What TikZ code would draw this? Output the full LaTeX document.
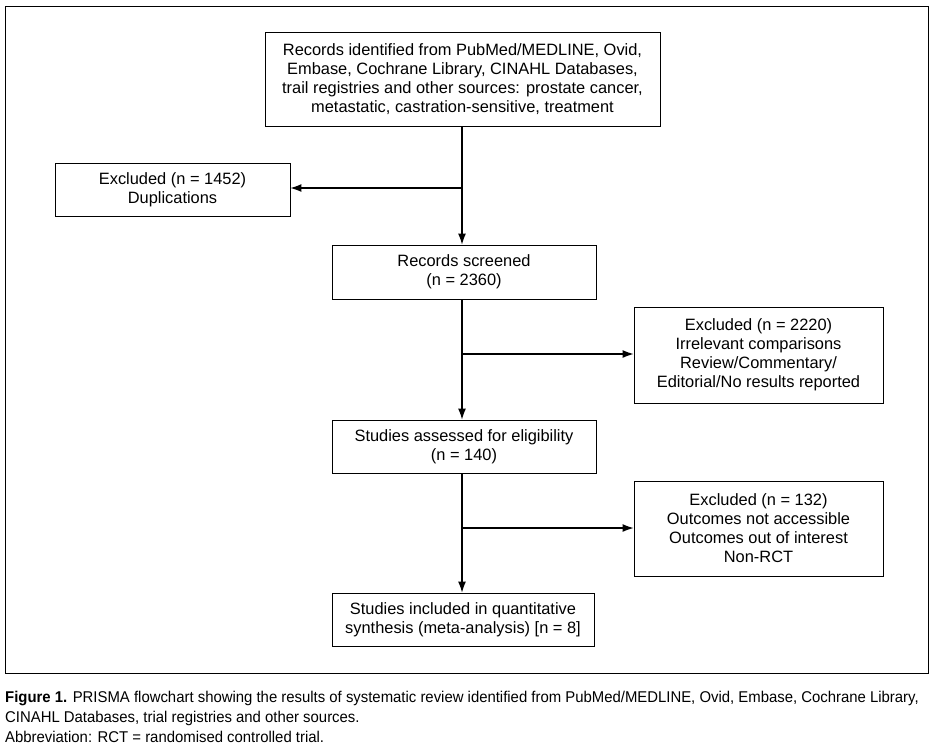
\documentclass[tikz,border=0pt]{standalone}
\usepackage{fontspec}
\setmainfont{Liberation Sans}
\newfontfamily\capfont[FakeStretch=0.955]{Liberation Sans}
\usetikzlibrary{arrows.meta}
\begin{document}
\begin{tikzpicture}[x=1pt,y=-1pt,
  box/.style={draw=black,line width=0.9pt,align=center,inner sep=0pt,
    font=\fontsize{16.4}{19}\selectfont},
  arr/.style={line width=1.1pt,-{Latex[length=11pt,width=8pt]}},
  captxt/.style={anchor=base west,inner sep=0pt,font=\capfont\fontsize{15.6}{18}\selectfont}]
\useasboundingbox (0,0) rectangle (936,752);
\draw[line width=1pt] (5,7) rectangle (928,673);
\node[box,minimum width=395pt,minimum height=94pt] (top) at (462.5,79)
  {Records identified from PubMed/MEDLINE, Ovid,\\Embase, Cochrane Library, CINAHL Databases,\\trail registries and other sources: prostate cancer,\\metastatic, castration-sensitive, treatment};
\node[box,minimum width=235pt,minimum height=53pt] (ex1) at (172.5,189.5)
  {Excluded (n = 1452)\\Duplications};
\node[box,minimum width=264pt,minimum height=54pt] (scr) at (464,272)
  {Records screened\\(n = 2360)};
\node[box,minimum width=249pt,minimum height=96pt] (ex2) at (758.5,355)
  {Excluded (n = 2220)\\Irrelevant comparisons\\Review/Commentary/\\Editorial/No results reported};
\node[box,minimum width=264pt,minimum height=53pt] (ass) at (464,446.5)
  {Studies assessed for eligibility\\(n = 140)};
\node[box,minimum width=249pt,minimum height=95pt] (ex3) at (758.5,528.5)
  {Excluded (n = 132)\\Outcomes not accessible\\Outcomes out of interest\\Non-RCT};
\node[box,minimum width=262pt,minimum height=53pt] (inc) at (463,619.5)
  {Studies included in quantitative\\synthesis (meta-analysis) [n = 8]};
\coordinate (t0) at (462,126);
\coordinate (b1) at (462,188);
\coordinate (s0) at (462,299);
\coordinate (b2) at (462,354);
\coordinate (a0) at (462,473);
\coordinate (b3) at (462,528);
\draw[arr] (t0) -- (t0 |- scr.north);
\draw[arr] (b1) -- (b1 -| ex1.east);
\draw[arr] (s0) -- (s0 |- ass.north);
\draw[arr] (b2) -- (b2 -| ex2.west);
\draw[arr] (a0) -- (a0 |- inc.north);
\draw[arr] (b3) -- (b3 -| ex3.west);
\node[captxt] (c1) at (5,702) {\textbf{Figure 1.} PRISMA flowchart showing the results of systematic review identified from PubMed/MEDLINE, Ovid, Embase, Cochrane Library,};
\node[captxt] (c2) at (5,722) {CINAHL Databases, trial registries and other sources.};
\node[captxt] (c3) at (5,742) {Abbreviation: RCT = randomised controlled trial.};
\end{tikzpicture}
\end{document}
